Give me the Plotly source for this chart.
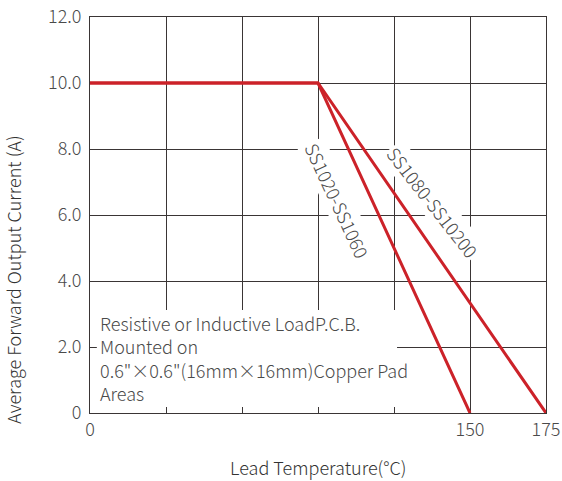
import plotly.graph_objects as go

# Data (x in chart grid divisions; chart is drawn not-to-scale)
grid_x = [0, 1, 2, 3, 4, 5, 6]
x_ticktext = ["0", "", "", "", "", "150", "175"]
y_ticks = [0, 2, 4, 6, 8, 10, 12]
y_ticktext = ["0", "2.0", "4.0", "6.0", "8.0", "10.0", "12.0"]

ss1020_x = [0, 3, 5]
ss1020_y = [10.0, 10.0, 0.0]
ss1080_x = [0, 3, 6]
ss1080_y = [10.0, 10.0, 0.0]

FONT = "Noto Sans CJK SC"
TXT = "#4a4a4a"
GRID = "#3a3535"
RED = "#cc2229"

fig = go.Figure()
fig.add_trace(go.Scatter(x=ss1080_x, y=ss1080_y, mode="lines",
                         line=dict(color=RED, width=3), showlegend=False))
fig.add_trace(go.Scatter(x=ss1020_x, y=ss1020_y, mode="lines",
                         line=dict(color=RED, width=3), showlegend=False))

fig.update_layout(
    width=562, height=481,
    margin=dict(l=90, r=16, t=17, b=68, autoexpand=False),
    paper_bgcolor="white", plot_bgcolor="white",
    font=dict(family=FONT, size=18, color=TXT, weight=300),
    xaxis=dict(range=[0, 6], tickvals=grid_x, ticktext=x_ticktext,
               showgrid=True, gridcolor=GRID, gridwidth=1,
               showline=True, linecolor=GRID, linewidth=1, mirror=True,
               ticks="", automargin=False, ticklabeloverflow="allow",
               zeroline=False, tickfont=dict(size=18, color=TXT, weight=300)),
    yaxis=dict(range=[0, 12], tickvals=y_ticks, ticktext=y_ticktext,
               showgrid=True, gridcolor=GRID, gridwidth=1,
               showline=True, linecolor=GRID, linewidth=1, mirror=True,
               ticks="", automargin=False, ticklabelstandoff=4,
               ticklabeloverflow="allow",
               zeroline=False, tickfont=dict(size=18, color=TXT, weight=300)),
)

# white panel behind the note
fig.add_shape(type="rect", xref="x", yref="y", x0=0.09, x1=4.04, y0=0.18, y1=3.12,
              fillcolor="white", line=dict(width=0), layer="between")

fig.add_annotation(xref="x", yref="y", x=0.1, y=3.19, xanchor="left", yanchor="top",
                   align="left", showarrow=False,
                   text="Resistive or Inductive LoadP.C.B.<br>Mounted on<br>0.6\"×0.6\"(16mm×16mm)Copper Pad<br>Areas",
                   font=dict(size=18, color=TXT, weight=300))

fig.add_annotation(xref="x", yref="y", x=3.25, y=6.44, showarrow=False,
                   xanchor="center", yanchor="middle",
                   text="SS1020-SS1060", textangle=65, bgcolor="white",
                   font=dict(size=18, color=TXT, weight=300))
fig.add_annotation(xref="x", yref="y", x=4.51, y=6.39, showarrow=False,
                   xanchor="center", yanchor="middle",
                   text="SS1080-SS10200", textangle=52, bgcolor="white",
                   font=dict(size=18, color=TXT, weight=300))

fig.add_annotation(xref="paper", yref="paper", x=0.5, y=-0.136, showarrow=False,
                   xanchor="center", yanchor="middle",
                   text="Lead Temperature(°C)", font=dict(size=18, color="#333333"))
fig.add_annotation(xref="paper", yref="paper", x=-0.169, y=0.336, showarrow=False,
                   xanchor="center", yanchor="middle",
                   text="Average Forward Output Current (A)", textangle=-90,
                   font=dict(size=18, color="#333333"))

# remove the page's default 8px body margin so the figure fills the window
fig.write_html("out.html", config={"displayModeBar": False},
               post_script="document.body.style.margin='0';")
